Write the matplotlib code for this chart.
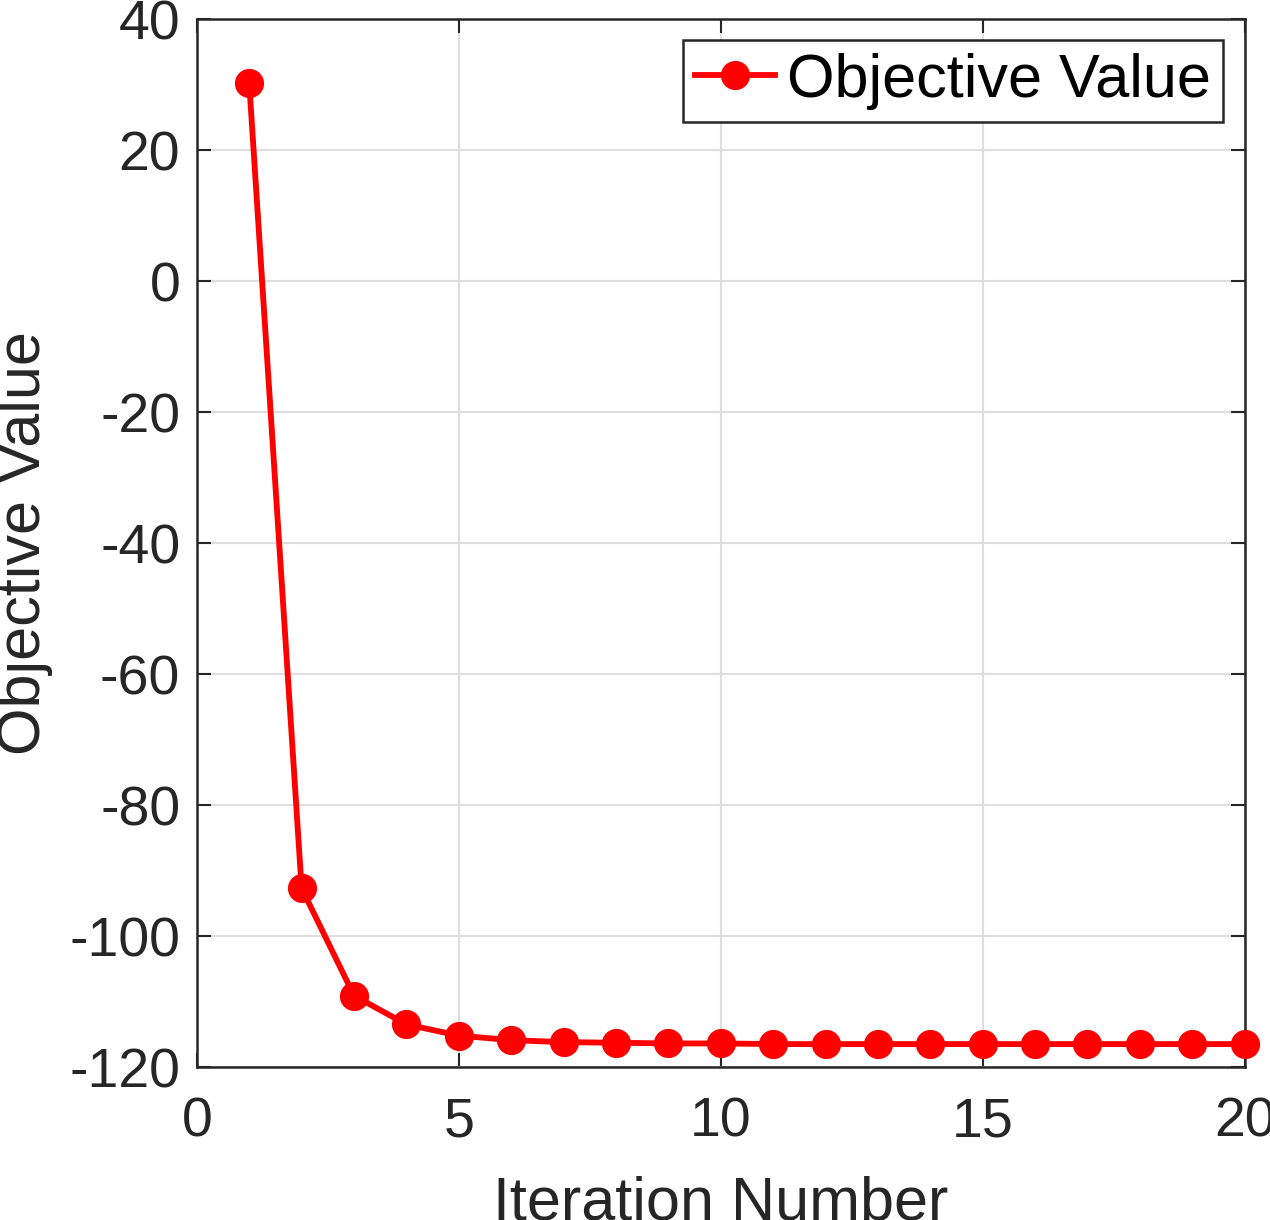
import matplotlib
matplotlib.use("Agg")
import matplotlib.pyplot as plt

iterations = list(range(1, 21))
objective = [30.2, -92.7, -109.1, -113.5, -115.2, -115.9, -116.2, -116.3, -116.4, -116.4,
             -116.5, -116.5, -116.5, -116.5, -116.5, -116.5, -116.5, -116.5, -116.5, -116.5]
xticks = [0, 5, 10, 15, 20]
yticks = [-120, -100, -80, -60, -40, -20, 0, 20, 40]

plt.rcParams['font.family'] = ['Liberation Sans', 'DejaVu Sans']
plt.rcParams['axes.unicode_minus'] = False
tc = (0.15, 0.15, 0.15)

fig = plt.figure(figsize=(12.7, 12.2), dpi=100)
ax = fig.add_axes([0.155, 0.1254, 0.825, 0.859])
ax.plot(iterations, objective, '-o', color='red', lw=4.2, markersize=20,
        label='Objective Value', clip_on=False, zorder=3)
ax.set_xlim(0, 20)
ax.set_ylim(-120, 40)
ax.set_xticks(xticks)
ax.set_yticks(yticks)
ax.grid(True, color=(0.87, 0.87, 0.87), lw=1.5)
ax.set_axisbelow(True)
ax.tick_params(direction='in', length=10, width=1.5, top=True, right=True,
               labelsize=40, colors=tc)
ax.tick_params(axis='x', pad=21)
ax.tick_params(axis='y', pad=12)
for s in ax.spines.values():
    s.set_linewidth(1.8)
    s.set_color(tc)
ax.set_xlabel('Iteration Number', fontsize=44, color=tc, labelpad=20)
ax.set_ylabel('Objective Value', fontsize=44, color=tc, labelpad=12)
leg = ax.legend(loc='upper right', fontsize=44, fancybox=False, framealpha=1,
                edgecolor=tc, handlelength=1.3, borderpad=0.2, handletextpad=0.2,
                borderaxespad=0.35)
leg.get_frame().set_linewidth(1.8)
fig.savefig('out.png', dpi=100)
